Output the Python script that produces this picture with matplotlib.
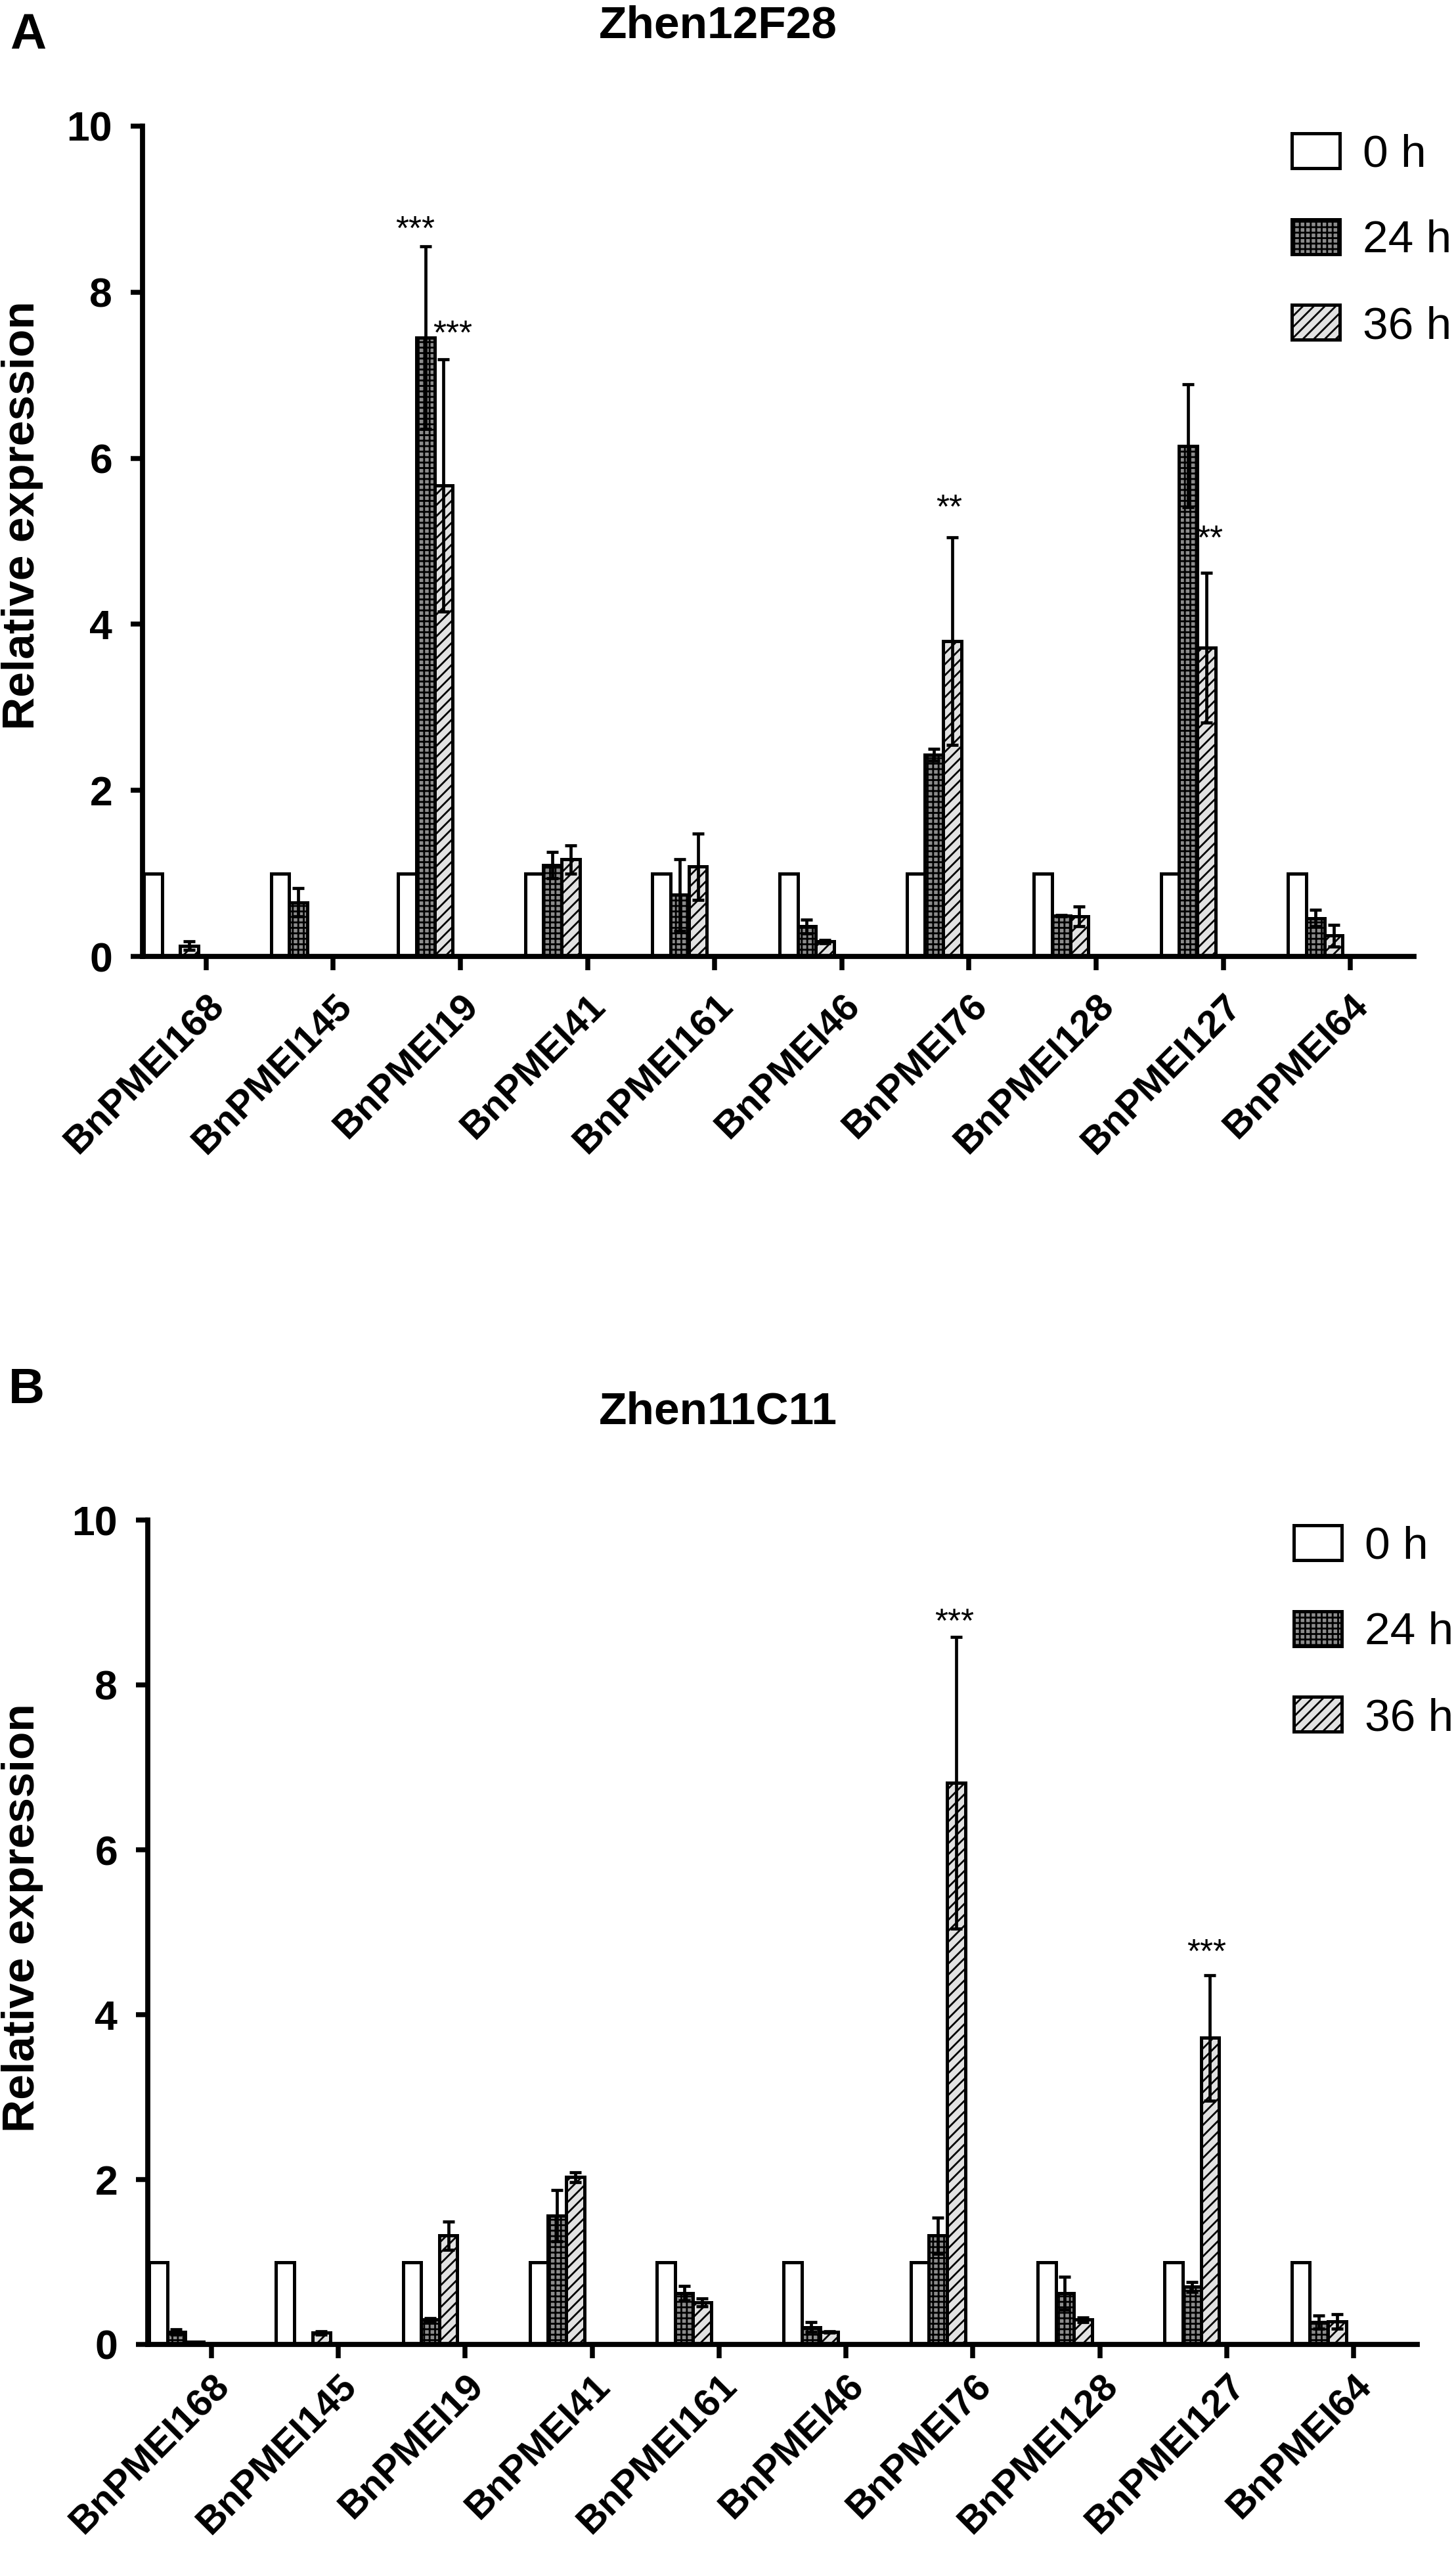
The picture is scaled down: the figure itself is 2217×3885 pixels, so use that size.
import numpy as np
import matplotlib
matplotlib.use("Agg")
import matplotlib.pyplot as plt
from matplotlib.transforms import ScaledTranslation

plt.rcParams['font.family'] = ['Liberation Sans', 'DejaVu Sans']
plt.rcParams['hatch.linewidth'] = 2.0

genes = ['BnPMEI168', 'BnPMEI145', 'BnPMEI19', 'BnPMEI41', 'BnPMEI161',
         'BnPMEI46', 'BnPMEI76', 'BnPMEI128', 'BnPMEI127', 'BnPMEI64']
series = ['0 h', '24 h', '36 h']

# Panel A: Zhen12F28
a_0h = [1.0, 1.0, 1.0, 1.0, 1.0, 1.0, 1.0, 1.0, 1.0, 1.0]
a_24h = [0.01, 0.65, 7.45, 1.10, 0.74, 0.36, 2.43, 0.49, 6.15, 0.46]
a_24h_sd = [0.0, 0.17, 1.10, 0.16, 0.43, 0.08, 0.07, 0.01, 0.74, 0.10]
a_36h = [0.13, 0.01, 5.67, 1.17, 1.08, 0.18, 3.80, 0.48, 3.72, 0.25]
a_36h_sd = [0.05, 0.0, 1.52, 0.17, 0.40, 0.02, 1.25, 0.12, 0.90, 0.13]
a_stars = [(2, 1, '***'), (2, 2, '***'), (6, 2, '**'), (8, 2, '**')]

# Panel B: Zhen11C11
b_0h = [1.0, 1.0, 1.0, 1.0, 1.0, 1.0, 1.0, 1.0, 1.0, 1.0]
b_24h = [0.15, 0.01, 0.30, 1.56, 0.62, 0.21, 1.32, 0.62, 0.70, 0.27]
b_24h_sd = [0.03, 0.0, 0.02, 0.31, 0.09, 0.06, 0.22, 0.20, 0.06, 0.08]
b_36h = [0.03, 0.14, 1.32, 2.03, 0.51, 0.15, 6.81, 0.30, 3.72, 0.28]
b_36h_sd = [0.0, 0.02, 0.17, 0.06, 0.05, 0.01, 1.77, 0.03, 0.76, 0.09]
b_stars = [(6, 2, '***'), (8, 2, '***')]

yticks = [0, 2, 4, 6, 8, 10]

W, H = 2217, 3885
fig = plt.figure(figsize=(W / 100, H / 100), dpi=100)

faces = ['white', '#8c8c8c', '#e2e2e2']
hatches = [None, '++', '//']
bw = 0.143
offs = [-0.4185, -0.2755, -0.1325]


def px_rect(l, t, r, b):
    return [l / W, 1 - b / H, (r - l) / W, (b - t) / H]


def panel(rect, title, letter, title_xy, letter_xy, ylab_xy, vals, sds, stars,
          star_offsets, leg_xy, xpad):
    ax = fig.add_axes(rect)
    x = np.arange(len(genes))
    for k in range(3):
        ax.bar(x + offs[k], vals[k], width=bw, color=faces[k],
               edgecolor='black', linewidth=3.6, hatch=hatches[k],
               label=series[k], zorder=2)
        sd = np.array(sds[k])
        m = sd > 0
        if m.any():
            ax.errorbar((x + offs[k])[m], np.array(vals[k])[m], yerr=sd[m],
                        fmt='none', ecolor='black', elinewidth=3.4, capsize=6.5,
                        capthick=3.4, zorder=3)
    for (gi, si, txt), (dx, dy) in zip(stars, star_offsets):
        yv = vals[si][gi] + sds[si][gi]
        ax.annotate(txt, xy=(gi + offs[si], yv), xytext=(dx, dy),
                    textcoords='offset points', ha='center', va='baseline',
                    fontsize=37, zorder=4)
    ax.set_xlim(-0.5, 9.5)
    ax.set_ylim(0, 10)
    ax.set_yticks(yticks)
    ax.set_yticklabels([str(t) for t in yticks], fontweight='bold', fontsize=45)
    ax.set_xticks(x)
    ax.set_xticklabels(genes, rotation=45, ha='right', va='top',
                       rotation_mode='anchor', fontweight='bold', fontsize=42)
    off = ScaledTranslation(0.10, 0, fig.dpi_scale_trans)
    for lab in ax.get_xticklabels():
        lab.set_transform(lab.get_transform() + off)
    for s in ['top', 'right']:
        ax.spines[s].set_visible(False)
    for s in ['left', 'bottom']:
        ax.spines[s].set_linewidth(5.6)
        ax.spines[s].set_capstyle('projecting')
    ax.tick_params(axis='y', direction='out', length=13, width=5.4, pad=20)
    ax.tick_params(axis='x', direction='out', length=15, width=5.4, pad=xpad)
    ax.set_facecolor('none')
    leg = ax.legend(loc='upper left', bbox_to_anchor=(leg_xy[0] / W, 1 - leg_xy[1] / H),
                    bbox_transform=fig.transFigure, frameon=False, fontsize=50,
                    handlelength=1.05, handleheight=0.8, labelspacing=0.95,
                    handletextpad=0.5, borderpad=0, borderaxespad=0)
    for p in leg.get_patches():
        p.set_linewidth(3.6)
    fig.text(title_xy[0] / W, 1 - title_xy[1] / H, title, ha='center',
             va='baseline', fontsize=50, fontweight='bold')
    fig.text(letter_xy[0] / W, 1 - letter_xy[1] / H, letter, ha='left',
             va='baseline', fontsize=55, fontweight='bold')
    fig.text(ylab_xy[0] / W, 1 - ylab_xy[1] / H, 'Relative expression',
             rotation=90, ha='center', va='center', fontsize=50,
             fontweight='bold')
    return ax


panel(px_rect(217, 192, 2153, 1456), 'Zhen12F28', 'A', (1093, 57), (15, 74),
      (34, 785), [a_0h, a_24h, a_36h], [[0] * 10, a_24h_sd, a_36h_sd], a_stars,
      [(-11.5, 7.6), (10, 16.8), (-3, 20.5), (4, 26)], (1967, 203), 20)

panel(px_rect(225, 2314, 2158, 3569), 'Zhen11C11', 'B', (1093, 2167), (13, 2136),
      (34, 2920), [b_0h, b_24h, b_36h], [[0] * 10, b_24h_sd, b_36h_sd], b_stars,
      [(-2, 5.7), (-3.6, 13.9)], (1970, 2322), 11)

fig.savefig('out.png', dpi=100, facecolor='white')
